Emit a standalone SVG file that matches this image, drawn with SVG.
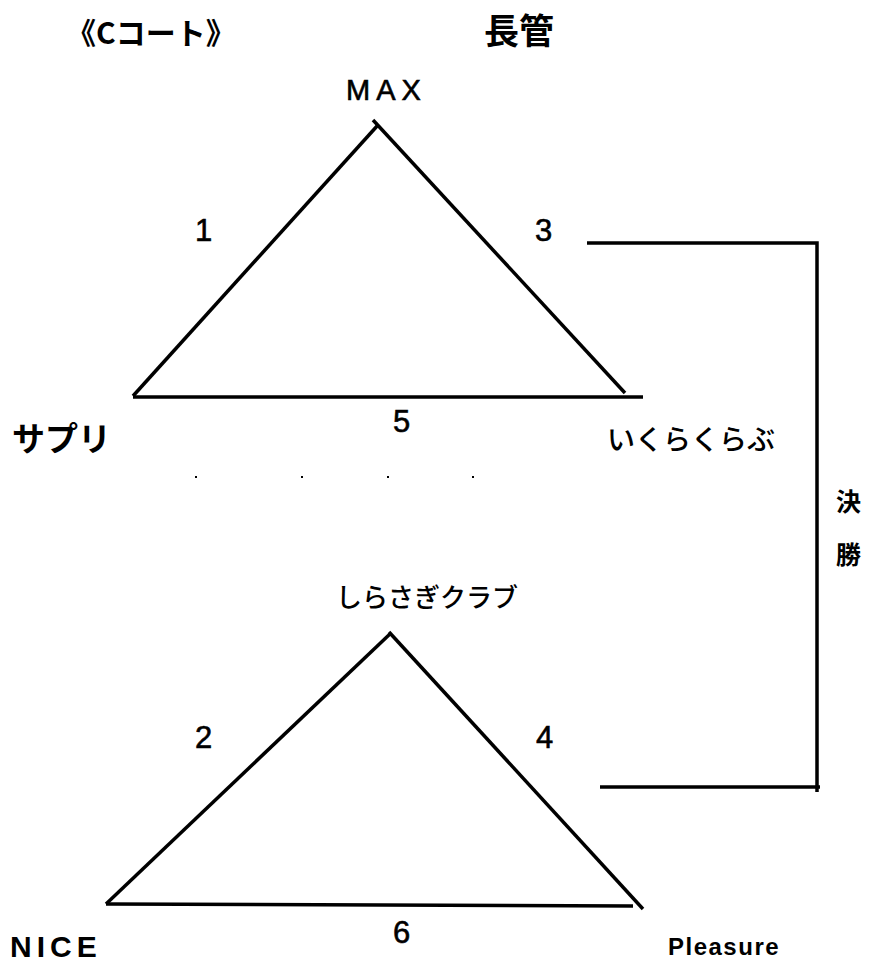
<svg xmlns="http://www.w3.org/2000/svg" width="883" height="963" viewBox="0 0 883 963">
<style>
.ln{stroke:#000;stroke-width:3.5;fill:none;stroke-linecap:butt}
.jp{font-family:"Noto Sans CJK JP","Liberation Sans",sans-serif;fill:#000}
.lt{font-family:"Liberation Sans","Noto Sans CJK JP",sans-serif;fill:#000}
.b{font-weight:bold}
.num{font-family:"Liberation Sans",sans-serif;font-size:31px;fill:#000;stroke:#000;stroke-width:0.6}
.dot{fill:#000}
</style>
<rect width="883" height="963" fill="#fff"/>
<g id="title">
<text class="jp b" x="66" y="44" font-size="30">《Cコート》</text>
<text class="jp b" x="484" y="44" font-size="35">長管</text>
</g>
<g id="connectors">
<line class="ln" x1="133" y1="396" x2="378" y2="125"/>
<line class="ln" x1="373" y1="120" x2="625" y2="393"/>
<line class="ln" x1="133" y1="397" x2="643" y2="397"/>
<line class="ln" x1="106" y1="904" x2="391" y2="633"/>
<line class="ln" x1="389" y1="632" x2="643" y2="909"/>
<line class="ln" x1="106" y1="904" x2="633" y2="906"/>
<polyline class="ln" points="587,243 817,243 817,792"/>
<line class="ln" x1="600" y1="787" x2="820" y2="787"/>
</g>
<g id="node-max"><text class="lt" x="346" y="100" font-size="29" letter-spacing="6" stroke="#000" stroke-width="0.6">MAX</text></g>
<g id="node-sapuri"><text class="jp b" x="12" y="451" font-size="33">サプリ</text></g>
<g id="node-ikura"><text class="jp" x="607" y="450" font-size="28" font-weight="500">いくらくらぶ</text></g>
<g id="node-shirasagi"><text class="jp" x="336" y="607" font-size="26" font-weight="500">しらさぎクラブ</text></g>
<g id="node-nice"><text class="lt b" x="10" y="957" font-size="30" letter-spacing="5">NICE</text></g>
<g id="node-pleasure"><text class="lt b" x="668" y="955" font-size="24" letter-spacing="1.5">Pleasure</text></g>
<g id="labels">
<text class="num" x="195" y="241">1</text>
<text class="num" x="535" y="241">3</text>
<text class="num" x="393" y="432">5</text>
<text class="num" x="195" y="748">2</text>
<text class="num" x="536" y="748">4</text>
<text class="num" x="393" y="943">6</text>
<text class="jp b" x="836" y="511" font-size="25">決</text>
<text class="jp b" x="836" y="564" font-size="25">勝</text>
</g>
<g id="dots">
<rect class="dot" x="195" y="476" width="2" height="2"/>
<rect class="dot" x="301" y="476" width="2" height="2"/>
<rect class="dot" x="387" y="476" width="2" height="2"/>
<rect class="dot" x="472" y="476" width="2" height="2"/>
</g>
</svg>
